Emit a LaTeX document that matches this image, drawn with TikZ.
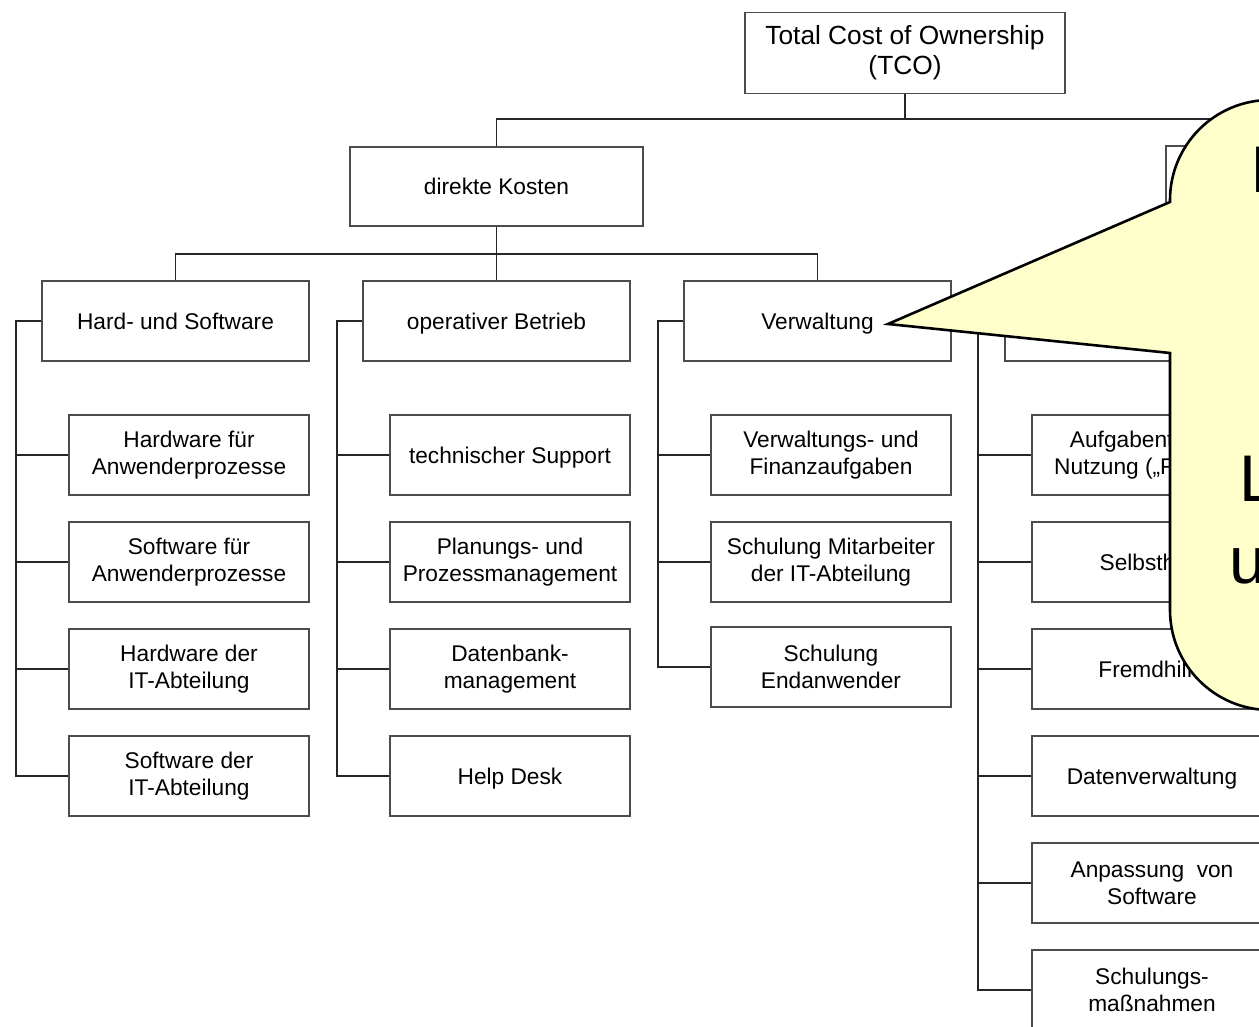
\documentclass[tikz,border=0pt]{standalone}
\usepackage{fontspec}
\setmainfont{Liberation Sans}
\begin{document}
\begin{tikzpicture}[x=1pt,y=-1pt,
  box/.style={draw=black!70,line width=1.1pt,fill=white,rectangle,inner sep=0pt,
    align=center,minimum width=240pt,minimum height=80pt,
    font=\fontsize{22.7}{27}\selectfont},
  one/.style={text height=16.5pt,text depth=0pt},
  wbox/.style={box,one,minimum width=267pt},
  con/.style={draw=black!85,line width=1.5pt},
  callout/.style={draw=black,line width=2.6pt,fill={rgb,255:red,255;green,255;blue,204},line join=miter},
  ctext/.style={anchor=base west,inner sep=0pt,font=\fontsize{66}{70}\selectfont}]
\useasboundingbox (0,0) rectangle (1259,1027);
\clip (0,0) rectangle (1259,1027);
\fill[white] (0,0) rectangle (1259,1027);

% level 0 and 1
\node[box,minimum width=320pt,minimum height=81pt,font=\fontsize{26.3}{30}\selectfont] (tco) at (905,53) {Total Cost of Ownership\\(TCO)};
\node[box,one,minimum width=293pt,minimum height=79pt] (dk) at (496.5,186.5) {direkte Kosten};
\node[box,minimum width=293pt,minimum height=80pt] (ik) at (1312.5,186) {};

% level 2
\node[wbox] (hs) at (175.5,321) {Hard- und Software};
\node[wbox] (op) at (496.5,321) {operativer Betrieb};
\node[wbox] (vw) at (817.5,321) {Verwaltung};
\node[wbox] (eb) at (1138.5,321) {};

% column 1
\node[box] (a1) at (189,455) {Hardware f\"ur\\Anwenderprozesse};
\node[box] (a2) at (189,562) {Software f\"ur\\Anwenderprozesse};
\node[box] (a3) at (189,669) {Hardware der\\IT-Abteilung};
\node[box] (a4) at (189,776) {Software der\\IT-Abteilung};
% column 2
\node[box,one] (b1) at (510,455) {technischer Support};
\node[box] (b2) at (510,562) {Planungs- und\\Prozessmanagement};
\node[box] (b3) at (510,669) {Datenbank-\\management};
\node[box,one] (b4) at (510,776) {Help Desk};
% column 3
\node[box] (c1) at (831,455) {Verwaltungs- und\\Finanzaufgaben};
\node[box] (c2) at (831,562) {Schulung Mitarbeiter\\der IT-Abteilung};
\node[box] (c3) at (831,667) {Schulung\\Endanwender};
% column 4
\node[box] (d1) at (1152,455) {Aufgabenteilung\\Nutzung (\char"201E Futzing\char"201C)};
\node[box,one] (d2) at (1152,562) {Selbsthilfe};
\node[box,one] (d3) at (1152,669) {Fremdhilfe};
\node[box,one] (d4) at (1152,776) {Datenverwaltung};
\node[box] (d5) at (1152,883) {Anpassung\ \ von\\Software};
\node[box] (d6) at (1152,990) {Schulungs-\\ma\ss nahmen};

% connectors level 0-1
\coordinate (j0) at (905,119);
\draw[con] (tco.south) -- (j0);
\draw[con] (dk.north) |- (j0) -| (ik.north);
% connectors level 1-2
\coordinate (j1) at (496.5,254);
\draw[con] (dk.south) -- (op.north);
\draw[con] (hs.north) |- (j1) -| (vw.north);
\coordinate (j2) at (1312.5,254);
\draw[con] (ik.south) -- (j2) -| (eb.north);

% column spines
\coordinate (s1) at (16,321);
\coordinate (s2) at (337,321);
\coordinate (s3) at (658,321);
\coordinate (s4) at (978,321);
\draw[con] (hs.west) -- (s1) |- (a4.west);
\foreach \n in {a1,a2,a3} \draw[con] (\n.west) -- (\n.west -| s1);
\draw[con] (op.west) -- (s2) |- (b4.west);
\foreach \n in {b1,b2,b3} \draw[con] (\n.west) -- (\n.west -| s2);
\draw[con] (vw.west) -- (s3) |- (c3.west);
\foreach \n in {c1,c2} \draw[con] (\n.west) -- (\n.west -| s3);
\draw[con] (eb.west) -- (s4) |- (d6.west);
\foreach \n in {d1,d2,d3,d4,d5} \draw[con] (\n.west) -- (\n.west -| s4);

% callout
\coordinate (tip) at (888,324);
\draw[callout] (tip) -- (1170,353) -- (1170,610)
  arc[start angle=180,end angle=90,radius=100] -- (1500,710) -- (1500,100) -- (1270,100)
  arc[start angle=270,end angle=180,radius=100] -- (1170,202) -- cycle;
\node[ctext] (t1) at (1250,193) {I};
\node[ctext] (t2) at (1239,501) {L};
\node[ctext] (t3) at (1229,583) {u};
\end{tikzpicture}
\end{document}
